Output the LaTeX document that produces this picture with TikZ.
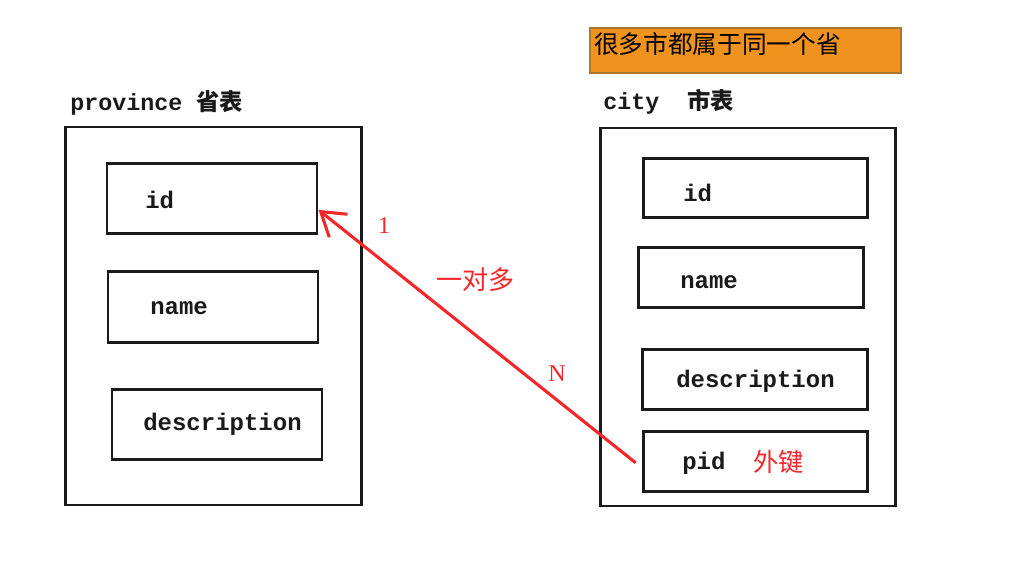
\documentclass[tikz,border=0pt]{standalone}
\usepackage{fontspec}
\setmonofont{Liberation Mono}
\setmainfont{Liberation Serif}
\newfontfamily\cjk{Noto Sans CJK SC}
\usetikzlibrary{positioning,arrows.meta}
\definecolor{note}{HTML}{F0931E}
\definecolor{noteline}{HTML}{A8782C}
\definecolor{link}{HTML}{F5262A}
\definecolor{ink}{HTML}{1A1A1A}

\begin{document}
\begin{tikzpicture}[x=.75pt,y=-.75pt,
  table/.style={draw=ink,line width=2.2pt,minimum width=221.5pt,minimum height=283.5pt,inner sep=0pt},
  lfield/.style={draw=ink,line width=2.2pt,minimum width=157.5pt,minimum height=53pt,inner sep=0pt},
  rfield/.style={draw=ink,line width=2.2pt,minimum width=168.5pt,minimum height=44.5pt,inner sep=0pt},
  fname/.style={anchor=west,inner sep=0pt,text=ink,font=\ttfamily\bfseries\fontsize{18pt}{20pt}\selectfont},
  title/.style={anchor=west,inner sep=0pt,text=ink,font=\ttfamily\bfseries\fontsize{17.5pt}{20pt}\selectfont},
  rel/.style={text=link,inner sep=0pt}]
  \useasboundingbox (0,0) rectangle (1009,564);
  % note
  \node[draw=noteline,fill=note,line width=1.2pt,minimum width=233pt,minimum height=33.75pt,inner sep=0pt] (note) at (745.5,50.5) {};
  \node[anchor=west,inner sep=0pt,font=\cjk\fontsize{18.5pt}{20pt}\selectfont] (notet) at (594,44) {很多市都属于同一个省};
  % province
  \node[title] (provt) at (70,103) {province {\cjk\bfseries 省表}};
  \node[table] (prov) at (213.5,316) {};
  \node[lfield] (idL) at (212,198.5) {};
  \node[fname] (idLt) at (145,200) {id};
  \node[lfield] (nameL) at (213,307) {};
  \node[fname] (nameLt) at (150,308) {name};
  \node[lfield] (descL) at (217,424.5) {};
  \node[fname] (descLt) at (143,424) {description};
  % city
  \node[title] (cityt) at (603,102) {city\ \ {\cjk\bfseries 市表}};
  \node[table] (city) at (748,317) {};
  \node[rfield] (idR) at (755.5,188) {};
  \node[fname] (idRt) at (683,193) {id};
  \node[rfield] (nameR) at (751,277.5) {};
  \node[fname] (nameRt) at (680,282) {name};
  \node[rfield] (descR) at (755,379.5) {};
  \node[fname] (descRt) at (676,381) {description};
  \node[rfield] (pidR) at (755.5,461.5) {};
  \node[fname] (pidRt) at (682,463) {pid};
  \node[anchor=west,inner sep=0pt,text=link,font=\cjk\fontsize{19pt}{20pt}\selectfont] (fk) at (753,462) {外键};
  % relation
  \draw[link,line width=2.3pt,-{Straight Barb[length=17pt,width=22pt]}] ([xshift=-4.5pt,yshift=-1pt]pidR.west) -- ([yshift=-8.5pt]idL.east);
  \node[rel,font=\fontsize{18pt}{20pt}\selectfont] (one) at (384,226) {1};
  \node[rel,font=\cjk\fontsize{19.5pt}{20pt}\selectfont] (onemany) at (475,280) {一对多};
  \node[rel,font=\fontsize{18pt}{20pt}\selectfont] (many) at (557,374) {N};
\end{tikzpicture}
\end{document}
